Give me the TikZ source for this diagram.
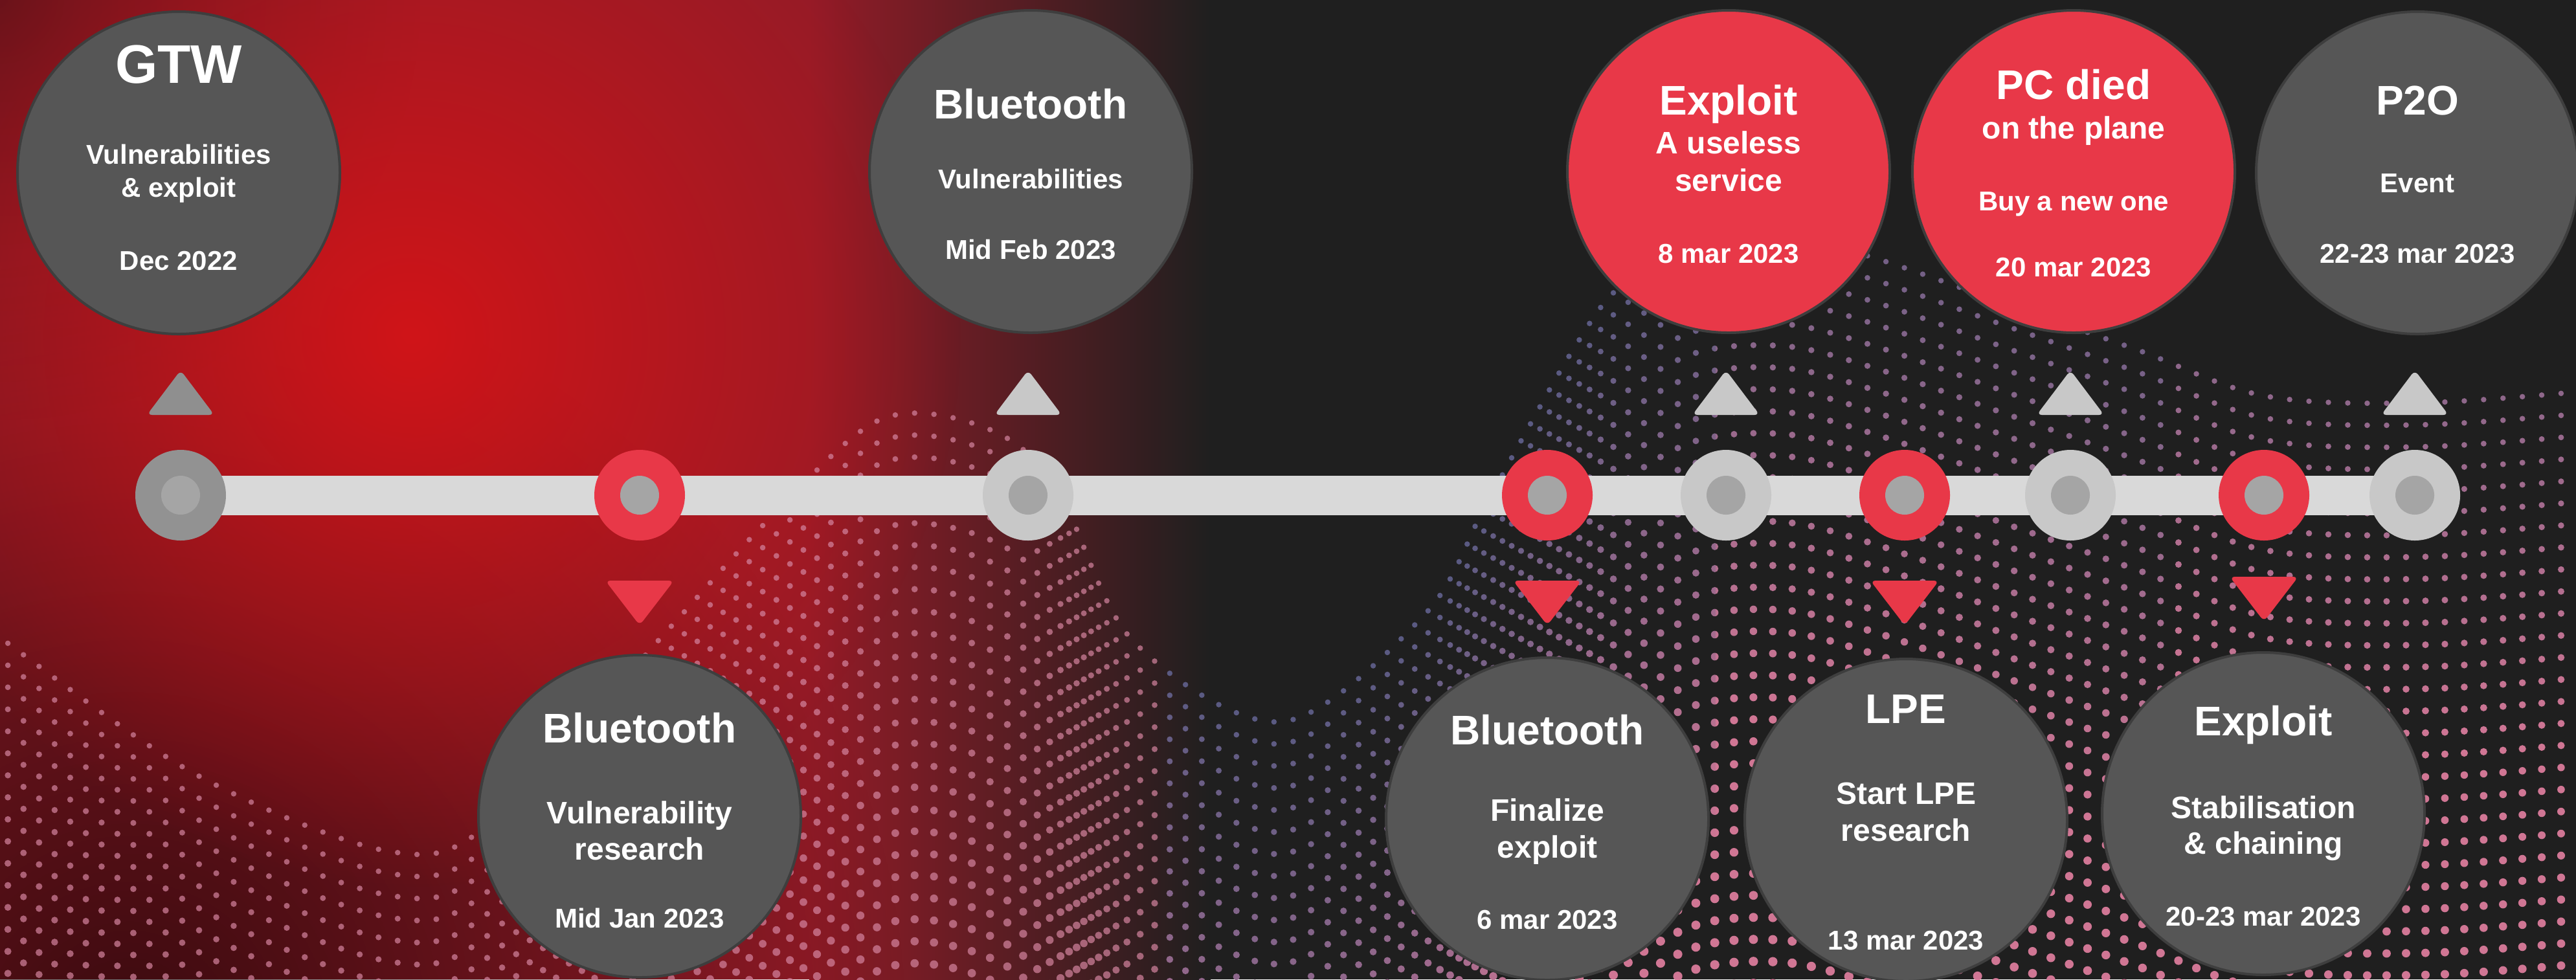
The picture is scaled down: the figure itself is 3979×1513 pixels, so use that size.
\documentclass[tikz,border=0pt]{standalone}
\usepackage{fontspec}
\setmainfont{Liberation Sans}
\usetikzlibrary{fadings}
\definecolor{bgdark}{HTML}{1F1F1F}
\definecolor{redbase}{HTML}{941B27}
\definecolor{glowred}{HTML}{D01418}
\definecolor{circgray}{HTML}{565656}
\definecolor{circred}{HTML}{E83848}
\definecolor{circedge}{HTML}{3E3E3E}
\definecolor{barcol}{HTML}{D9D9D9}
\definecolor{dotlight}{HTML}{C8C8C8}
\definecolor{dotdark}{HTML}{929292}
\definecolor{dotinner}{HTML}{A5A5A5}
\definecolor{tridark}{HTML}{8F8F8F}
\definecolor{dotpink}{HTML}{DA7B9B}
\definecolor{dotpurple}{HTML}{5E5E88}
\definecolor{dotleft}{HTML}{D4849F}
\tikzfading[name=glowfade, inner color=transparent!0, outer color=transparent!100]
\pgfdeclarelayer{back}
\pgfdeclarelayer{mid}
\pgfsetlayers{back,mid,main}
\tikzset{
  bubble/.style={circle, minimum size=124.5pt, inner sep=0pt, draw=circedge, line width=1pt},
  gbub/.style={bubble, fill=circgray},
  rbub/.style={bubble, fill=circred},
  ring/.style={circle, minimum size=35pt, inner sep=0pt},
  gring/.style={ring, fill=dotlight},
  dring/.style={ring, fill=dotdark},
  rring/.style={ring, fill=circred},
  hub/.style={circle, minimum size=15pt, inner sep=0pt, fill=dotinner},
  bar/.style={draw=barcol, line width=15.25pt},
  txt/.style={anchor=base, inner sep=0pt, text=white},
  big/.style={txt, font=\fontsize{21}{25}\selectfont\bfseries},
  ttl/.style={txt, font=\fontsize{16}{19}\selectfont\bfseries},
  sub/.style={txt, font=\fontsize{12}{14}\selectfont\bfseries},
  dt/.style={txt, font=\fontsize{10.5}{12.5}\selectfont\bfseries},
  uptri/.style={rounded corners=2pt},
  dntri/.style={fill=circred, rounded corners=2pt},
}
\begin{document}
\begin{tikzpicture}[x=0.25pt, y=-0.25pt]
\useasboundingbox (0,0) rectangle (3979,1513);
\begin{pgfonlayer}{back}
\begin{scope}
\clip (0,0) rectangle (3979,1513);
\fill[bgdark] (0,0) rectangle (3979,1513);
\fill[redbase] (0,0) rectangle (1250,1513);
\shade[left color=redbase, right color=bgdark] (1250,0) rectangle (1870,1513);
\fill[black, opacity=0.6, path fading=glowfade] (200,1600) circle (1200);
\fill[black, opacity=0.3, path fading=glowfade] (0,0) circle (650);
\fill[glowred, path fading=glowfade] (634,520) circle (850);
% dotted wave field
\foreach \xa/\xb/\off/\s in {0/1790/0/1, 1790/2650/0/2, 2650/3350/0.22/2, 3350/3979/0.45/2} {
  \begin{scope}
    \clip (\xa,0) rectangle (\xb,1513);
    \foreach \k in {0,...,34} {
      \pgfmathsetmacro\lw{(8.5+6*\k/34)*0.25}
      \pgfmathtruncatemacro\pct{100*min(1,\k/28+\off)}
      \ifnum\s=1
        \colorlet{rowc}{dotleft}\def\op{0.7}
      \else
        \colorlet{rowc}{dotpink!\pct!dotpurple}\def\op{0.95}
      \fi
      \draw[rowc, opacity=\op, line width=\lw pt, line cap=round, dash pattern=on 0pt off 7.5pt, shift={(0,\k*34)}]
        plot[smooth, tension=0.55] coordinates {(-60,940) (0,985) (300,1195) (600,1315) (760,1270) (1030,975) (1190,800) (1360,648) (1520,660) (1630,750) (1750,990) (1980,1115) (2200,950) (2290,790) (2350,680) (2430,540) (2500,445) (2620,375) (2760,365) (2900,400) (3100,470) (3300,540) (3500,612) (3750,622) (4040,600)};
    }
  \end{scope}
}
\end{scope}
\end{pgfonlayer}

% timeline dots
\node[dring] (d1) at (279,765) {};
\node[rring] (d2) at (988,765) {};
\node[gring] (d3) at (1588,765) {};
\node[rring] (d4) at (2390,765) {};
\node[gring] (d5) at (2666,765) {};
\node[rring] (d6) at (2942,765) {};
\node[gring] (d7) at (3198,765) {};
\node[rring] (d8) at (3497,765) {};
\node[gring] (d9) at (3730,765) {};
\foreach \n in {1,...,9} { \node[hub] (d\n h) at (d\n) {}; }

\begin{pgfonlayer}{mid}
\draw[bar] (d1.center) -- (d2.center) -- (d3.center) -- (d4.center) -- (d5.center) -- (d6.center) -- (d7.center) -- (d8.center) -- (d9.center);
\end{pgfonlayer}

% triangles
\fill[uptri, tridark] (279,572) -- (331,641) -- (227,641) -- cycle;
\foreach \x in {1588,2666,3198,3730} {
  \fill[uptri, dotlight] (\x,572) -- (\x+52,641) -- (\x-52,641) -- cycle;
}
\foreach \x in {988,2390,2942} {
  \fill[dntri] (\x-53,897) -- (\x+53,897) -- (\x,966) -- cycle;
}
\fill[dntri] (3444,891) -- (3550,891) -- (3497,960) -- cycle;

% top bubbles
\node[gbub] (c1) at (276,267) {};
\node[gbub] (c2) at (1592,265) {};
\node[rbub] (c3) at (2670,265) {};
\node[rbub] (c4) at (3203,265) {};
\node[gbub] (c5) at (3734,267) {};
% bottom bubbles
\node[gbub] (b1) at (988,1261) {};
\node[gbub] (b2) at (2390,1265) {};
\node[gbub] (b3) at (2944,1267) {};
\node[gbub] (b4) at (3496,1257) {};

% texts top
\node[big] (c1a) at (276,128) {GTW};
\node[dt] (c1b) at (276,253) {Vulnerabilities};
\node[dt] (c1c) at (276,304) {\& exploit};
\node[dt] (c1d) at (276,417) {Dec 2022};

\node[ttl] (c2a) at (1592,183) {Bluetooth};
\node[dt] (c2b) at (1592,291) {Vulnerabilities};
\node[dt] (c2c) at (1592,400) {Mid Feb 2023};

\node[ttl] (c3a) at (2670,177) {Exploit};
\node[sub] (c3b) at (2670,237) {A useless};
\node[sub] (c3c) at (2670,295) {service};
\node[dt] (c3d) at (2670,406) {8 mar 2023};

\node[ttl] (c4a) at (3203,153) {PC died};
\node[sub] (c4b) at (3203,214) {on the plane};
\node[dt] (c4c) at (3203,325) {Buy a new one};
\node[dt] (c4d) at (3203,427) {20 mar 2023};

\node[ttl] (c5a) at (3734,177) {P2O};
\node[dt] (c5b) at (3734,297) {Event};
\node[dt] (c5c) at (3734,406) {22-23 mar 2023};

% texts bottom
\node[ttl] (b1a) at (988,1147) {Bluetooth};
\node[sub] (b1b) at (988,1272) {Vulnerability};
\node[sub] (b1c) at (988,1328) {research};
\node[dt] (b1d) at (988,1433) {Mid Jan 2023};

\node[ttl] (b2a) at (2390,1150) {Bluetooth};
\node[sub] (b2b) at (2390,1268) {Finalize};
\node[sub] (b2c) at (2390,1325) {exploit};
\node[dt] (b2d) at (2390,1435) {6 mar 2023};

\node[ttl] (b3a) at (2944,1117) {LPE};
\node[sub] (b3b) at (2944,1242) {Start LPE};
\node[sub] (b3c) at (2944,1299) {research};
\node[dt] (b3d) at (2944,1467) {13 mar 2023};

\node[ttl] (b4a) at (3496,1136) {Exploit};
\node[sub] (b4b) at (3496,1264) {Stabilisation};
\node[sub] (b4c) at (3496,1319) {\& chaining};
\node[dt] (b4d) at (3496,1430) {20-23 mar 2023};
\end{tikzpicture}
\end{document}
